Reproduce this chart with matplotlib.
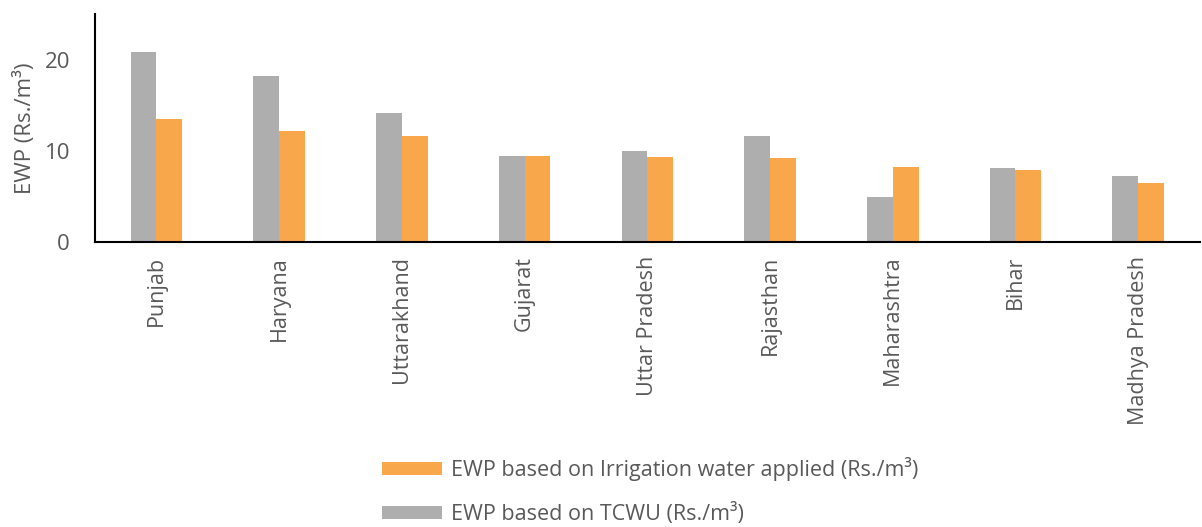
import numpy as np
import matplotlib.pyplot as plt

plt.rcParams['font.family'] = ['Open Sans', 'DejaVu Sans']

states = ["Punjab", "Haryana", "Uttarakhand", "Gujarat", "Uttar Pradesh",
          "Rajasthan", "Maharashtra", "Bihar", "Madhya Pradesh"]
ewp_tcwu = [20.8, 18.2, 14.2, 9.45, 10.0, 11.6, 4.9, 8.1, 7.25]
ewp_irrigation = [13.5, 12.2, 11.6, 9.45, 9.3, 9.2, 8.2, 7.9, 6.5]

gray = "#ADAEAD"
orange = "#F9A74B"
txt = "#595959"

fig = plt.figure(figsize=(12.02, 5.27), dpi=100)
ax = fig.add_axes([0.079, 0.541, 0.919, 0.432])

x = np.arange(len(states))
w = 0.21
b1 = ax.bar(x - w/2, ewp_tcwu, w, color=gray, label="EWP based on TCWU (Rs./m³)")
b2 = ax.bar(x + w/2, ewp_irrigation, w, color=orange,
            label="EWP based on Irrigation water applied (Rs./m³)")

ax.set_xlim(-0.5, len(states) - 0.5)
ax.set_ylim(0, 25)
ax.set_yticks([0, 10, 20])
ax.set_xticks(x)
ax.set_xticklabels(states, rotation=90, fontsize=15.5, color=txt)
ax.tick_params(axis='y', labelsize=16, labelcolor=txt, length=0, pad=18)
ax.tick_params(axis='x', length=0, pad=10)
ax.set_ylabel("EWP (Rs./m³)", fontsize=16, color=txt, labelpad=6)

for s in ["top", "right"]:
    ax.spines[s].set_visible(False)
for s in ["left", "bottom"]:
    ax.spines[s].set_color("black")
    ax.spines[s].set_linewidth(1.5)

fig.legend([b2, b1], [b2.get_label(), b1.get_label()],
           loc="lower left", bbox_to_anchor=(0.316, 0.0), frameon=False,
           borderpad=0.1, borderaxespad=0,
           fontsize=15.5, labelcolor=txt, handlelength=2.8, handleheight=0.55,
           labelspacing=1.0, handletextpad=0.4)

fig.savefig("out.png", dpi=100)
